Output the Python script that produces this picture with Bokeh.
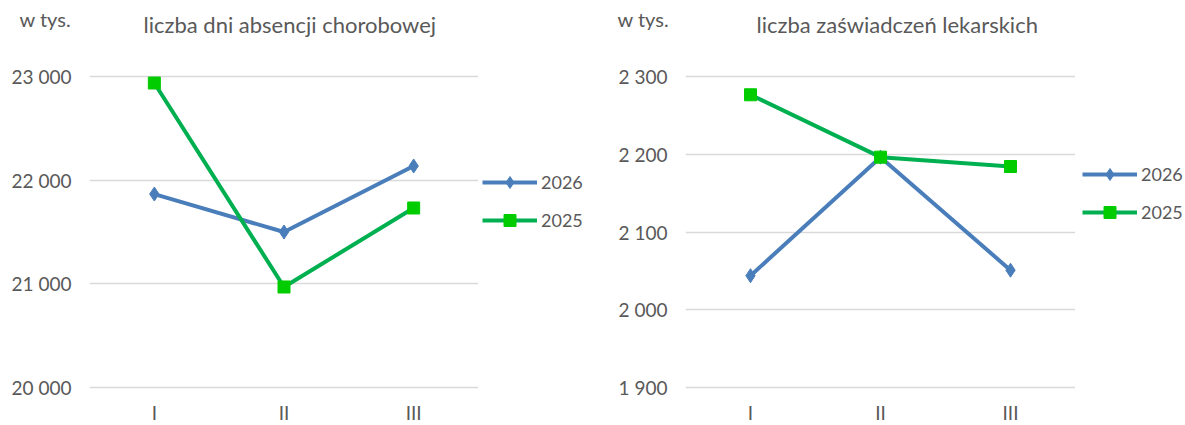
from bokeh.plotting import figure
from bokeh.models import (ColumnDataSource, Legend, LegendItem, Title, Range1d,
                          FixedTicker, CustomJSTickFormatter)
from bokeh.layouts import row
from bokeh.embed import file_html
from bokeh.resources import INLINE

# ---- data ----
months = ["I", "II", "III"]
days_2026 = [21865, 21500, 22135]
days_2025 = [22933, 20971, 21731]
certs_2026 = [2044, 2196, 2051]
certs_2025 = [2276, 2196, 2184]
series_names = ["2026", "2025"]
left_title = "liczba dni absencji chorobowej"
right_title = "liczba zaświadczeń lekarskich"
unit_label = "w tys."
left_ticks = [20000, 21000, 22000, 23000]
right_ticks = [1900, 2000, 2100, 2200, 2300]

FONT = "Lato"
TXT = "#595959"
BLUE = "#4a7ebb"
GREEN = "#00b050"
GREEN_M = "#00cc00"
H = 415
NAN = float("nan")

fmt = CustomJSTickFormatter(code="""
    const s = Math.round(tick).toString();
    return s.replace(/\\B(?=(\\d{3})+(?!\\d))/g, '\\u00a0');
""")


def style_series(p, xs, a, b):
    src = ColumnDataSource(dict(m=xs, a=a, b=b))
    l1 = p.line("m", "a", source=src, line_color=BLUE, line_width=4)
    s1 = p.scatter("m", "a", source=src, marker="diamond", size=14,
                   fill_color=BLUE, line_color=BLUE)
    l2 = p.line("m", "b", source=src, line_color=GREEN, line_width=4)
    s2 = p.scatter("m", "b", source=src, marker="square", size=12,
                   fill_color=GREEN_M, line_color=GREEN_M)
    return l1, s1, l2, s2


def make_chart(title, v26, v25, ticks, yr, bl, fw, t_off, u_off):
    p = figure(x_range=months, y_range=yr, frame_width=fw, frame_height=315,
               min_border_left=bl, min_border_right=0, min_border_top=74,
               min_border_bottom=0, output_backend="svg", toolbar_location=None)
    p.outline_line_color = None
    p.background_fill_color = "white"
    p.border_fill_color = "white"
    style_series(p, months, v26, v25)
    for ax in (p.xaxis, p.yaxis):
        ax.axis_line_color = None
        ax.major_tick_line_color = None
        ax.minor_tick_line_color = None
        ax.major_label_text_font = FONT
        ax.major_label_text_font_size = "19px"
        ax.major_label_text_color = TXT
    p.yaxis.ticker = FixedTicker(ticks=ticks)
    p.yaxis.formatter = fmt
    p.yaxis.major_label_standoff = 12
    p.xaxis.major_label_standoff = 5
    p.xgrid.grid_line_color = None
    p.ygrid.ticker = FixedTicker(ticks=ticks)
    p.ygrid.grid_line_color = "#d9d9d9"
    p.ygrid.grid_line_width = 1.5
    # spacer (nearest the frame), then the chart title, then the unit (outermost)
    spacer = Title(text=" ", standoff=36, text_font=FONT, text_font_size="10px",
                   text_color=TXT)
    p.add_layout(spacer, "above")
    main = Title(text=title, align="left", offset=t_off, standoff=-26,
                 text_font=FONT, text_font_size="22px", text_font_style="normal",
                 text_color=TXT)
    p.add_layout(main, "above")
    p.title = Title(text=unit_label, align="left", offset=u_off, standoff=-18,
                    text_font=FONT, text_font_size="20px", text_font_style="normal",
                    text_color=TXT)
    return p


def make_legend(w, lx, ly):
    p = figure(width=w, height=H, x_range=Range1d(0, 1), y_range=Range1d(0, 1),
               x_axis_location=None, y_axis_location=None,
               min_border_left=0, min_border_right=0, min_border_top=0,
               min_border_bottom=0, output_backend="svg", toolbar_location=None)
    p.outline_line_color = None
    p.grid.visible = False
    p.border_fill_color = "white"
    # legend-only renderers (no visible data point)
    l1, s1, l2, s2 = style_series(p, [NAN], [NAN], [NAN])
    legend = Legend(items=[LegendItem(label=series_names[0], renderers=[l1, s1]),
                           LegendItem(label=series_names[1], renderers=[l2, s2])],
                    location=(lx, ly), orientation="vertical",
                    glyph_width=55, glyph_height=30, label_standoff=4, spacing=8,
                    padding=0, margin=0, border_line_color=None,
                    background_fill_alpha=0,
                    label_text_font=FONT, label_text_font_size="18px",
                    label_text_color=TXT)
    p.add_layout(legend, "center")
    return p


c1 = make_chart(left_title, days_2026, days_2025, left_ticks, (19985, 23015),
                89, 389, 54, -70)
g1 = make_legend(118, 4, 143)
c2 = make_chart(right_title, certs_2026, certs_2025, right_ticks, (1898, 2302),
                89, 390, 71, -68)
g2 = make_legend(109, 7, 151)

layout = row(c1, g1, c2, g2)
open("out.html", "w").write(file_html(layout, INLINE))
